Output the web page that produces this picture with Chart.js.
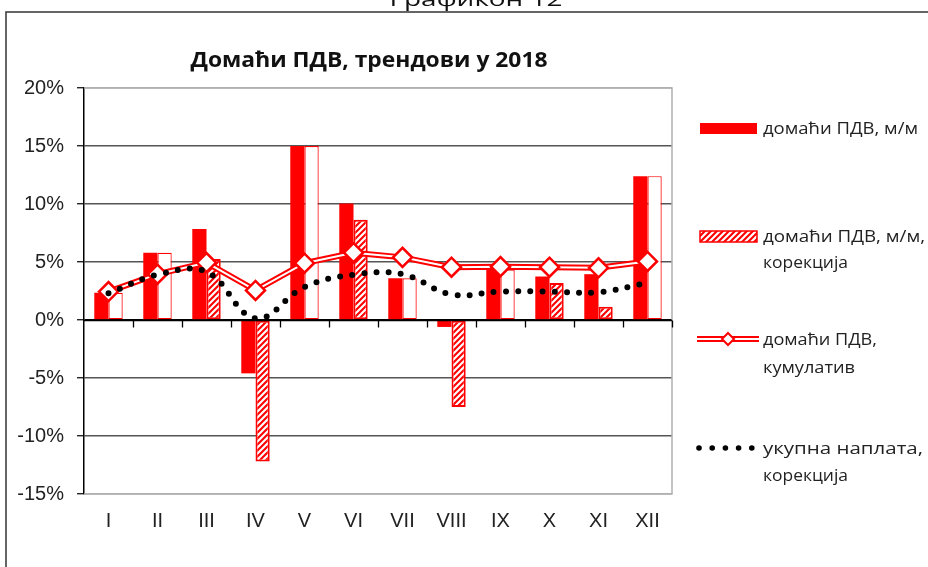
<!DOCTYPE html>
<html><head><meta charset="utf-8">
<script src="https://cdn.jsdelivr.net/npm/chart.js@4"></script>
<style>html,body{margin:0;padding:0;background:#fff;overflow:hidden}#wrap{width:928px;height:567px;position:relative}</style>
</head><body><div id="wrap"><canvas id="c" width="928" height="567"></canvas></div>
<script>
const categories = ['I','II','III','IV','V','VI','VII','VIII','IX','X','XI','XII'];
const vatMoM = [2.35, 5.8, 7.85, -4.6, 15.0, 10.05, 3.6, -0.6, 4.35, 3.75, 3.95, 12.4];
const vatMoMCorrected = [2.35, 5.8, 5.25, -12.2, 15.0, 8.65, 3.6, -7.5, 4.35, 3.2, 1.15, 12.4];
const correctedHatched = [false, false, true, true, false, true, false, true, false, true, true, false];
const vatCumulative = [2.45, 3.95, 4.95, 2.55, 4.9, 5.8, 5.4, 4.55, 4.6, 4.55, 4.5, 5.05];
const totalCorrected = [2.3, 3.9, 4.15, 0.15, 2.85, 3.9, 3.95, 2.2, 2.45, 2.45, 2.4, 3.2];
const yTicks = [-15, -10, -5, 0, 5, 10, 15, 20];
const chartTitle = 'Домаћи ПДВ, трендови у 2018';
const figureCaption = 'Графикон 12';
const legendLines = [
  ['домаћи ПДВ, м/м'],
  ['домаћи ПДВ, м/м,', 'корекција'],
  ['домаћи ПДВ,', 'кумулатив'],
  ['укупна наплата,', 'корекција']
];

const RED = '#ff0000';
const canvas = document.getElementById('c');
const mainCtx = canvas.getContext('2d');
function makeHatch() {
  const c = document.createElement('canvas'); c.width = 6; c.height = 6;
  const g = c.getContext('2d');
  g.fillStyle = '#fff'; g.fillRect(0, 0, 6, 6);
  g.strokeStyle = RED; g.lineWidth = 2.1;
  g.beginPath();
  g.moveTo(-1, 7); g.lineTo(7, -1);
  g.moveTo(-1, 1); g.lineTo(1, -1);
  g.moveTo(5, 7); g.lineTo(7, 5);
  g.stroke();
  return mainCtx.createPattern(c, 'repeat');
}
const hatch = makeHatch();

function fitText(ctx, text, x, y, targetW, align) {
  const w = ctx.measureText(text).width;
  const s = targetW / w;
  ctx.save();
  let x0 = x;
  if (align === 'center') x0 = x - targetW / 2;
  ctx.translate(x0, y);
  ctx.scale(s, 1);
  ctx.textAlign = 'left';
  ctx.fillText(text, 0, 0);
  ctx.restore();
}

const deco = {
  id: 'deco',
  beforeDatasetsDraw(chart) {
    const ctx = chart.ctx, a = chart.chartArea;
    ctx.save();
    ctx.strokeStyle = '#b0b0b0'; ctx.lineWidth = 1.5;
    ctx.beginPath();
    ctx.moveTo(a.left, a.top); ctx.lineTo(a.right, a.top); ctx.lineTo(a.right, a.bottom); ctx.lineTo(a.left, a.bottom);
    ctx.stroke();
    ctx.restore();
  },
  afterDatasetsDraw(chart) {
    const ctx = chart.ctx, a = chart.chartArea, xs = chart.scales.x, ys = chart.scales.y;
    const y0 = Math.round(ys.getPixelForValue(0)) + 0.5;
    ctx.save();
    ctx.strokeStyle = '#000'; ctx.lineWidth = 1.3;
    ctx.beginPath();
    ctx.moveTo(a.left, y0); ctx.lineTo(a.right, y0);
    const n = categories.length;
    for (let i = 1; i <= n; i++) {
      const xb = i < n ? (xs.getPixelForValue(i - 1) + xs.getPixelForValue(i)) / 2 : a.right;
      ctx.moveTo(Math.round(xb) + 0.5, y0); ctx.lineTo(Math.round(xb) + 0.5, y0 + 7);
    }
    ctx.stroke();
    ctx.restore();
  },
  afterDraw(chart) {
    const ctx = chart.ctx;
    ctx.save();
    ctx.strokeStyle = '#333'; ctx.lineWidth = 1.5;
    ctx.beginPath(); ctx.moveTo(6, 567); ctx.lineTo(6, 12); ctx.lineTo(928, 12); ctx.stroke();
    ctx.fillStyle = '#111';
    ctx.textBaseline = 'alphabetic';
    ctx.font = '20px "Open Sans", "Noto Sans", sans-serif';
    fitText(ctx, figureCaption, 476, 6, 173, 'center');
    ctx.font = 'bold 21px "Open Sans", "Noto Sans", sans-serif';
    fitText(ctx, chartTitle, 369, 67, 357, 'center');
    ctx.font = '16px "Open Sans", "Noto Sans", sans-serif';
    ctx.fillStyle = '#222';
    ctx.textBaseline = 'middle';
    const lx = 763;
    const widths = [[155], [162, 85], [114, 92], [160, 85]];
    const rows = [[128], [236, 262], [339, 367], [448, 475]];
    legendLines.forEach((lines, i) => {
      lines.forEach((t, j) => fitText(ctx, t, lx, rows[i][j] + 1, widths[i][j], 'left'));
    });
    ctx.fillStyle = RED;
    ctx.fillRect(700, 123, 57, 11);
    ctx.fillStyle = hatch; ctx.fillRect(700, 231, 57, 11);
    ctx.strokeStyle = RED; ctx.lineWidth = 1.5; ctx.strokeRect(700, 231, 57, 11);
    ctx.lineCap = 'butt';
    ctx.strokeStyle = RED; ctx.lineWidth = 6;
    ctx.beginPath(); ctx.moveTo(697, 339); ctx.lineTo(759, 339); ctx.stroke();
    ctx.strokeStyle = '#fff'; ctx.lineWidth = 2;
    ctx.beginPath(); ctx.moveTo(697, 339); ctx.lineTo(759, 339); ctx.stroke();
    ctx.beginPath(); ctx.moveTo(728, 333); ctx.lineTo(734, 339); ctx.lineTo(728, 345); ctx.lineTo(722, 339); ctx.closePath();
    ctx.fillStyle = '#fff'; ctx.fill(); ctx.strokeStyle = RED; ctx.lineWidth = 2; ctx.stroke();
    ctx.fillStyle = '#000';
    for (let k = 0; k < 5; k++) { ctx.beginPath(); ctx.arc(699 + k * 13.2, 448, 2.8, 0, Math.PI * 2); ctx.fill(); }
    ctx.restore();
  }
};

new Chart(canvas, {
  data: {
    labels: categories,
    datasets: [
      { type: 'line', label: legendLines[3].join(' '), data: totalCorrected, order: 0,
        borderColor: '#000', borderWidth: 6, borderDash: [0, 12.2], borderCapStyle: 'round',
        tension: 0.4, pointRadius: 0, fill: false },
      { type: 'line', label: 'cum-inner', data: vatCumulative, order: 1,
        borderColor: '#fff', borderWidth: 2, tension: 0,
        pointStyle: 'rectRot', pointRadius: 9.5, pointBorderWidth: 2.5,
        pointBackgroundColor: '#fff', pointBorderColor: RED, fill: false },
      { type: 'line', label: legendLines[2].join(' '), data: vatCumulative, order: 2,
        borderColor: RED, borderWidth: 6, tension: 0, pointRadius: 0, fill: false },
      { type: 'bar', label: legendLines[0].join(' '), data: vatMoM, order: 3,
        backgroundColor: RED, borderWidth: 0,
        categoryPercentage: 0.58, barPercentage: 1.0 },
      { type: 'bar', label: legendLines[1].join(' '), data: vatMoMCorrected, order: 4,
        backgroundColor: correctedHatched.map(h => h ? hatch : '#fff'),
        borderColor: RED, borderWidth: correctedHatched.map(h => h ? 2 : 1.2), borderSkipped: false,
        categoryPercentage: 0.58, barPercentage: 1.0 }
    ]
  },
  options: {
    responsive: false, animation: false, devicePixelRatio: 1,
    layout: { padding: { top: 88, right: 256, left: 0, bottom: 0 } },
    plugins: { legend: { display: false }, title: { display: false }, tooltip: { enabled: false } },
    scales: {
      x: {
        afterFit(s) { s.height = 73; },
        grid: { display: false, drawTicks: false },
        border: { display: false },
        ticks: { color: '#222', padding: 15, font: { family: '"Liberation Sans", Arial, sans-serif', size: 20 } }
      },
      y: {
        min: -15, max: 20,
        afterFit(s) { s.width = 84; },
        afterBuildTicks(s) { s.ticks = yTicks.map(v => ({ value: v })); },
        border: { display: true, color: '#000', width: 1.5 },
        grid: {
          color: c => (c.tick && (c.tick.value === 20 || c.tick.value === -15)) ? '#b0b0b0' : (c.tick && c.tick.value === 0 ? '#000' : '#555'),
          lineWidth: 1.5, drawTicks: true, tickLength: 7, tickColor: '#000', tickWidth: 1.2
        },
        ticks: { color: '#222', padding: 13, callback: v => v + '%', font: { family: '"Liberation Sans", Arial, sans-serif', size: 20 } }
      }
    }
  },
  plugins: [deco]
});
</script>
</body></html>
